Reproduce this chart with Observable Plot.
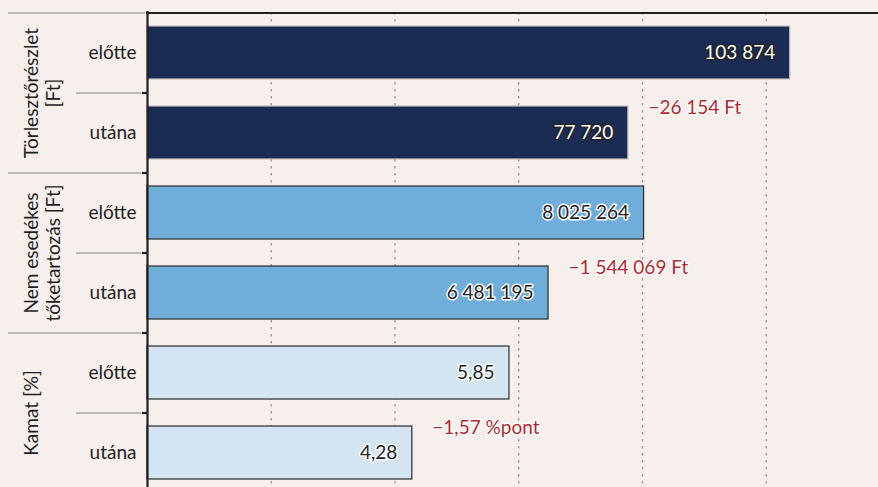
<!DOCTYPE html>
<html>
<head>
<meta charset="utf-8">
<script src="https://cdn.jsdelivr.net/npm/d3@7"></script>
<script src="https://cdn.jsdelivr.net/npm/@observablehq/plot@0.6"></script>
<style>
  html, body { margin: 0; padding: 0; background: #f6efec; }
  #chart svg { display: block; }
</style>
</head>
<body>
<div id="chart"></div>
<script>
// ---- data ----
const groups = ["Törlesztőrészlet\n[Ft]", "Nem esedékes\ntőketartozás [Ft]", "Kamat [%]"];
const subs = ["előtte", "utána"];
const before = [103874, 8025264, 5.85];
const after = [77720, 6481195, 4.28];
const gridStep = [20000, 2000000, 2];      // value represented by one gridline interval
const gridTicks = [1, 2, 3, 4, 5];
const valueFormats = [",d", ",d", ",.2f"];
const diffUnits = [" Ft", " Ft", " %pont"];
const groupFills = ["#1a2b54", "#6fadda", "#d3e4f3"];
const groupStrokes = ["#c9c0bd", "#2b2b2b", "#2b2b2b"];
const labelFills = ["#ffffff", "#222222", "#222222"];
const labelStrokes = ["#222222", "#ffffff", "#ffffff"];

// ---- derived tables ----
const hu = d3.formatLocale({decimal: ",", thousands: "\u00a0", grouping: [3], currency: ["", ""], minus: "\u2212"});
const keys = [];
const rows = [];
groups.forEach((g, i) => {
  [before[i], after[i]].forEach((v, j) => {
    const key = i + "|" + j;
    keys.push(key);
    rows.push({
      key, gi: i, sub: subs[j], j,
      x: v / gridStep[i],
      label: hu.format(valueFormats[i])(v),
      fill: groupFills[i], stroke: groupStrokes[i],
      lfill: labelFills[i], lstroke: labelStrokes[i]
    });
  });
});
const diffRows = groups.map((g, i) => ({
  key: i + "|1",
  x: after[i] / gridStep[i],
  text: hu.format(valueFormats[i])(after[i] - before[i]) + diffUnits[i]
}));
const groupRows = groups.map((g, i) => ({key: i + "|0", text: g}));

const dark = "#231f20";
const sepGray = "#a9a6a5";

const chart = Plot.plot({
  width: 878,
  height: 487,
  marginTop: 12,
  marginLeft: 147,
  marginRight: 0,
  marginBottom: 0,
  x: {domain: [0, 6], range: [147, 147 + 6 * 123.75], axis: null},
  y: {domain: keys, range: [12, 492], paddingInner: 0.3375, paddingOuter: 0.16875, axis: null},
  color: {type: "identity"},
  style: {fontFamily: "Lato, 'Open Sans', sans-serif", fontSize: "19px", background: "#f6efec", overflow: "visible"},
  marks: [
    // dotted gridlines
    Plot.ruleX(gridTicks, {stroke: "#9a9696", strokeWidth: 1.3, strokeDasharray: "2.5,4.5"}),
    // bars
    Plot.barX(rows, {x: "x", y: "key", fill: "fill", stroke: "stroke", strokeWidth: 1.2}),
    // value labels
    Plot.text(rows, {x: "x", y: "key", text: "label", textAnchor: "end", dx: -15,
      fill: "lfill", stroke: "lstroke", strokeWidth: 3, fontSize: 19}),
    // difference labels
    Plot.text(diffRows, {x: "x", y: "key", text: "text", textAnchor: "start", dx: 20, dy: -25,
      fill: "#b3282e", stroke: "#ffffff", strokeWidth: 2.5, fontSize: 19}),
    // left-margin separators: group boundaries
    Plot.ruleY(rows.filter(d => d.j === 0), {y: "key", dy: -40, stroke: sepGray, strokeWidth: 1.5, insetLeft: -139, insetRight: 733}),
    // left-margin separators: within group
    Plot.ruleY(rows.filter(d => d.j === 1), {y: "key", dy: -40, stroke: sepGray, strokeWidth: 1.5, insetLeft: -71, insetRight: 733}),
    // small dark ticks on axis
    Plot.ruleY(rows.slice(1), {y: "key", dy: -40, stroke: dark, strokeWidth: 2.2, insetLeft: -5, insetRight: 731}),
    // top border
    Plot.ruleY(rows.slice(0, 1), {y: "key", dy: -40, stroke: dark, strokeWidth: 2.2, insetLeft: -1}),
    // vertical axis line
    Plot.ruleX([0], {stroke: dark, strokeWidth: 2.2, insetTop: -1}),
    // sub-category labels
    Plot.text(rows, {y: "key", text: "sub", frameAnchor: "left", textAnchor: "end", dx: -11, fill: "#1e1e1e", fontSize: 19}),
    // group labels (rotated)
    Plot.text(groupRows, {y: "key", text: "text", frameAnchor: "left", dx: -125, dy: 40, rotate: -90,
      textAnchor: "middle", lineAnchor: "top", lineHeight: 1.16, fill: "#1e1e1e", fontSize: 19})
  ]
});
document.getElementById("chart").append(chart);
</script>
</body>
</html>
